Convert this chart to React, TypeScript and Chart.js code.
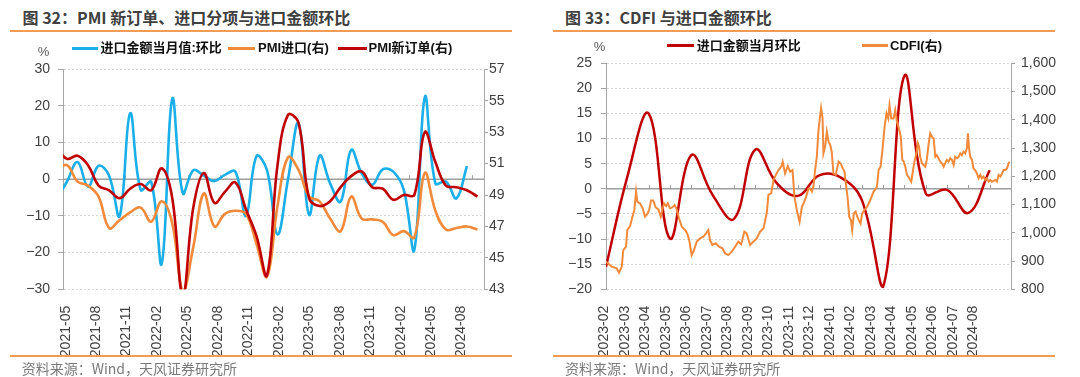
import React, { useEffect, useRef } from 'react';
import { Chart, registerables } from 'chart.js';

Chart.register(...registerables);

/* ================= 图 32 : monthly data, 2021-04 … 2024-08 ================= */
const FIG32_MONTHS = [
  '2021-04', '2021-05', '2021-06', '2021-07', '2021-08', '2021-09', '2021-10', '2021-11', '2021-12',
  '2022-01', '2022-02', '2022-03', '2022-04', '2022-05', '2022-06', '2022-07', '2022-08', '2022-09', '2022-10', '2022-11', '2022-12',
  '2023-01', '2023-02', '2023-03', '2023-04', '2023-05', '2023-06', '2023-07', '2023-08', '2023-09', '2023-10', '2023-11', '2023-12',
  '2024-01', '2024-02', '2024-03', '2024-04', '2024-05', '2024-06', '2024-07', '2024-08',
];
// 进口金额:当月值:环比 (%, left axis)
const FIG32_IMPORT_MOM = [
  -5.5, -0.6, 4.7, -2.0, 3.7, 1.0, -10.0, 18.0, -2.9,
  -0.7, -23.0, 22.0, -3.8, 2.5, 1.0, -0.5, 1.2, 2.1, -10.0, 6.3, 2.5,
  -15.0, 0.0, 15.3, -9.7, 6.4, -1.1, -6.1, 8.0, 1.6, -1.5, 2.7, 2.1,
  -2.9, -19.3, 22.5, -1.1, -0.6, -5.2, 3.6, null,
];
// PMI 进口 (right axis)
const FIG32_PMI_IMPORT = [
  50.6, 50.9, 49.85, 49.6, 48.9, 46.9, 47.4, 47.9, 48.2,
  47.3, 48.6, 47.2, 42.9, 45.7, 49.1, 47.0, 47.8, 48.0, 47.8, 45.9, 43.8,
  48.3, 51.4, 50.6, 48.9, 48.6, 47.5, 46.7, 48.9, 47.5, 47.45, 47.3, 46.45,
  46.7, 46.3, 50.4, 48.0, 46.8, 46.9, 47.0, 46.8,
];
// PMI 新订单 (right axis)
const FIG32_PMI_NEW_ORDERS = [
  52.0, 51.3, 51.5, 50.9, 49.6, 49.3, 48.8, 49.4, 49.7,
  49.3, 50.7, 48.8, 42.6, 48.2, 50.4, 48.5, 49.2, 49.8, 48.1, 46.4, 43.9,
  50.9, 54.1, 53.6, 48.8, 48.3, 48.6, 49.5, 50.2, 50.5, 49.5, 49.4, 48.7,
  49.0, 49.0, 53.0, 51.1, 49.6, 49.5, 49.3, 48.9,
];
const FIG32_TICK_LABELS = [
  '2021-05', '2021-08', '2021-11', '2022-02', '2022-05', '2022-08', '2022-11',
  '2023-02', '2023-05', '2023-08', '2023-11', '2024-02', '2024-05', '2024-08',
];
const FIG32_LEFT = { min: -30, max: 30, step: 10 };
const FIG32_RIGHT = { min: 43, max: 57, step: 2 };

/* ================= 图 33 : 2023-02 … 2024-08 ================= */
const FIG33_MONTHS = [
  '2023-02', '2023-03', '2023-04', '2023-05', '2023-06', '2023-07', '2023-08', '2023-09', '2023-10',
  '2023-11', '2023-12', '2024-01', '2024-02', '2024-03', '2024-04', '2024-05', '2024-06', '2024-07', '2024-08',
];
// 进口金额:当月环比 (%, left axis)
const FIG33_IMPORT_MOM = [
  -15.5, 2.4, 15.0, -9.9, 6.7, -1.2, -6.0, 7.8, 1.2, -1.4, 2.7, 2.3, -2.2, -19.5, 22.5, -0.9, -0.2, -4.8, 3.7,
];
// CDFI (right axis): time in months after 2023-02, value
const FIG33_CDFI_T = [
  0.00, 0.27, 0.50, 0.61, 0.74, 0.81, 0.94, 1.00, 1.13, 1.24, 1.33, 1.41, 1.47, 1.60, 1.72, 1.83, 1.94, 2.03, 2.11, 2.22,
  2.33, 2.46, 2.57, 2.65, 2.72, 2.82, 2.90, 3.00, 3.11, 3.22, 3.32, 3.41, 3.55, 3.71, 3.82, 3.91, 4.02, 4.13, 4.26, 4.41,
  4.57, 4.69, 4.80, 4.88, 4.99, 5.15, 5.30, 5.46, 5.59, 5.74, 5.90, 6.06, 6.21, 6.34, 6.49, 6.60, 6.76, 6.92, 7.07, 7.23,
  7.39, 7.54, 7.62, 7.75, 7.86, 7.97, 8.09, 8.22, 8.29, 8.40, 8.53, 8.64, 8.75, 8.84, 8.95, 9.08, 9.19, 9.30, 9.39, 9.50,
  9.58, 9.66, 9.73, 9.81, 9.89, 9.97, 10.05, 10.09, 10.16, 10.20, 10.28, 10.36, 10.44, 10.52, 10.59, 10.67, 10.78, 10.91, 11.02, 11.11,
  11.19, 11.25, 11.33, 11.41, 11.49, 11.55, 11.63, 11.71, 11.79, 11.86, 11.94, 12.02, 12.13, 12.25, 12.40, 12.55, 12.71, 12.79, 12.88, 12.97,
  13.07, 13.16, 13.24, 13.30, 13.38, 13.49, 13.57, 13.65, 13.76, 13.83, 13.90, 13.97, 14.05, 14.12, 14.23, 14.32, 14.38, 14.47, 14.58, 14.63,
  14.69, 14.74, 14.82, 14.90, 14.98, 15.05, 15.13, 15.21, 15.29, 15.37, 15.45, 15.52, 15.60, 15.68, 15.76, 15.84, 15.91, 15.99, 16.07, 16.15,
  16.23, 16.31, 16.38, 16.46, 16.54, 16.62, 16.69, 16.77, 16.85, 16.93, 16.98, 17.04, 17.09, 17.17, 17.24, 17.32, 17.40, 17.48, 17.56, 17.63,
  17.71, 17.79, 17.87, 17.95, 18.03, 18.11, 18.26, 18.34, 18.42, 18.50, 18.58, 18.65, 18.73, 18.81, 18.89, 18.93,
];
const FIG33_CDFI = [
  898, 880, 874, 859, 880, 939, 951, 1010, 1024, 1057, 1081, 1146, 1110, 1104, 1087, 1057, 1067, 1083, 1114, 1114,
  1090, 1083, 1057, 1083, 1104, 1095, 1104, 1087, 1090, 1098, 1083, 1055, 1022, 1010, 996, 972, 921, 939, 969, 980,
  986, 998, 1010, 974, 957, 963, 951, 945, 927, 921, 933, 951, 969, 959, 1004, 998, 957, 969, 980, 1004,
  1016, 1069, 1134, 1140, 1187, 1205, 1222, 1234, 1252, 1210, 1236, 1216, 1222, 1128, 1081, 1039, 1092, 1110, 1128, 1157,
  1157, 1146, 1163, 1222, 1269, 1364, 1417, 1441, 1405, 1281, 1305, 1358, 1323, 1311, 1287, 1210, 1205, 1252, 1243, 1228,
  1216, 1175, 1128, 1057, 1045, 1010, 1069, 1075, 1057, 1045, 1033, 1069, 1081, 1092, 1116, 1145, 1163, 1222, 1234, 1293,
  1376, 1423, 1405, 1452, 1405, 1405, 1435, 1393, 1364, 1340, 1258, 1252, 1230, 1205, 1193, 1181, 1210, 1252, 1287, 1317,
  1305, 1269, 1246, 1240, 1234, 1258, 1311, 1352, 1340, 1334, 1269, 1275, 1264, 1252, 1246, 1234, 1246, 1258, 1252, 1264,
  1258, 1240, 1269, 1264, 1269, 1281, 1275, 1287, 1281, 1299, 1352, 1293, 1269, 1258, 1228, 1222, 1210, 1193, 1205, 1193,
  1199, 1187, 1193, 1181, 1187, 1181, 1187, 1181, 1205, 1199, 1210, 1222, 1222, 1228, 1246, 1252,
];
const FIG33_LEFT = { min: -20, max: 25, step: 5 };
const FIG33_RIGHT = { min: 800, max: 1600, step: 100 };

/* ================= styling ================= */
const BLUE = '#1AAFE8';
const ORANGE = '#F28A3B';
const RED = '#C00000';
const AXIS = '#A6A6A6';
const ZERO = '#9E9E9E';
const GRID = '#D6D6D6';
const TICK_TEXT = '#404040';
const RULE = '#F29B52';
const LATIN = '"Liberation Sans", Arial, "Noto Sans CJK SC", sans-serif';
const CJK = '"Noto Sans CJK SC", "Liberation Sans", sans-serif';
const TICK_FONT = { family: '"Liberation Sans", Arial, sans-serif', size: 14 };

const PANEL_W = 540;
const PANEL_H = 377;

const minusFmt = (v: number) => (v < 0 ? '\u2212' + Math.abs(v) : String(v));
const thousandsFmt = (v: number) => v.toLocaleString('en-US');

function zeroAxisPlugin(tickValues: number[]) {
  return {
    id: 'zeroAxis',
    beforeDatasetsDraw(chart: any) {
      const { ctx, chartArea } = chart;
      const y = chart.scales.y.getPixelForValue(0);
      ctx.save();
      ctx.strokeStyle = ZERO;
      ctx.lineWidth = 1.5;
      ctx.beginPath();
      ctx.moveTo(chartArea.left, y);
      ctx.lineTo(chartArea.right, y);
      ctx.stroke();
      ctx.lineWidth = 1;
      ctx.beginPath();
      for (const v of tickValues) {
        const x = Math.round(chart.scales.x.getPixelForValue(v)) + 0.5;
        ctx.moveTo(x, y);
        ctx.lineTo(x, y - 4);
      }
      ctx.stroke();
      ctx.restore();
    },
  };
}

type Geo = {
  top: number; bottom: number; leftW: number; rightW: number;
  xMin: number; xMax: number; labelOffset: number; labelStep: number;
  leftPad: number; rightPad: number;
};

function axes(geo: Geo, tickLabels: string[], left: any, right: any, rightFmt: (v: number) => string) {
  return {
    x: {
      type: 'linear',
      position: 'bottom',
      min: geo.xMin,
      max: geo.xMax,
      grid: { display: false },
      border: { display: false },
      ticks: {
        autoSkip: false, maxRotation: 90, minRotation: 90, padding: 8.5,
        font: TICK_FONT, color: TICK_TEXT,
        callback: (_v: number, i: number) => tickLabels[i],
      },
      afterBuildTicks: (s: any) => {
        s.ticks = tickLabels.map((_l, j) => ({ value: geo.labelOffset + geo.labelStep * j }));
      },
      afterFit: (s: any) => { s.height = PANEL_H - geo.bottom; },
    },
    y: {
      position: 'left',
      min: left.min, max: left.max,
      ticks: { stepSize: left.step, callback: (v: number) => minusFmt(v), font: TICK_FONT, color: TICK_TEXT, padding: geo.leftPad },
      grid: { color: GRID, lineWidth: 1, tickColor: AXIS, tickLength: 5, tickWidth: 1 },
      border: { display: true, color: AXIS, width: 1, dash: [2, 2] },
      afterFit: (s: any) => { s.width = geo.leftW; },
    },
    yR: {
      position: 'right',
      min: right.min, max: right.max,
      ticks: { stepSize: right.step, callback: (v: number) => rightFmt(v), font: TICK_FONT, color: TICK_TEXT, padding: geo.rightPad },
      grid: { drawOnChartArea: false, tickColor: AXIS, tickLength: 4, tickWidth: 1 },
      border: { display: true, color: AXIS, width: 1 },
      afterFit: (s: any) => { s.width = geo.rightW; },
    },
  };
}

/* chart 1 geometry (canvas coords) */
const GEO32: Geo = {
  top: 69.3, bottom: 289.3, leftW: 63, rightW: PANEL_W - 484,
  xMin: -0.38, xMax: 39.62, labelOffset: -0.12, labelStep: 0.9644 * 3,
  leftPad: 8, rightPad: 1,
};
/* chart 2 geometry (canvas coords, canvas starts at page x = 540) */
const GEO33: Geo = {
  top: 63.3, bottom: 289.3, leftW: 66, rightW: PANEL_W - 471,
  xMin: 0, xMax: 19.0, labelOffset: -0.08, labelStep: 0.9624,
  leftPad: 9, rightPad: 6,
};

function buildFig32(canvas: HTMLCanvasElement) {
  const first = FIG32_MONTHS.indexOf('2021-05');
  const pts = (arr: (number | null)[]) => arr.map((y, k) => ({ x: k - first, y }));
  const ticksOnZero: number[] = [];
  for (let v = 2.5; v < FIG32_MONTHS.length - first; v += 3) ticksOnZero.push(v);
  return new Chart(canvas, {
    type: 'line',
    data: {
      datasets: [
        { label: 'PMI新订单(右)', data: pts(FIG32_PMI_NEW_ORDERS), yAxisID: 'yR', borderColor: RED, borderWidth: 2.6, tension: 0.4, pointRadius: 0, order: 0 },
        { label: 'PMI进口(右)', data: pts(FIG32_PMI_IMPORT), yAxisID: 'yR', borderColor: ORANGE, borderWidth: 2.6, tension: 0.4, pointRadius: 0, order: 1 },
        { label: '进口金额当月值:环比', data: pts(FIG32_IMPORT_MOM), yAxisID: 'y', borderColor: BLUE, borderWidth: 2.6, tension: 0.4, pointRadius: 0, order: 2 },
      ],
    },
    options: {
      responsive: false,
      animation: false,
      devicePixelRatio: 1,
      events: [],
      layout: { padding: { top: GEO32.top, left: 0, right: 0, bottom: 0 } },
      plugins: { legend: { display: false }, tooltip: { enabled: false } },
      scales: axes(GEO32, FIG32_TICK_LABELS, FIG32_LEFT, FIG32_RIGHT, (v) => String(v)),
    } as any,
    plugins: [zeroAxisPlugin(ticksOnZero)],
  });
}

function buildFig33(canvas: HTMLCanvasElement) {
  const monthPts = FIG33_IMPORT_MOM.map((y, k) => ({ x: k, y }));
  const cdfiPts = FIG33_CDFI.map((y, k) => ({ x: FIG33_CDFI_T[k], y }));
  const ticksOnZero = FIG33_MONTHS.map((_m, k) => k);
  return new Chart(canvas, {
    type: 'line',
    data: {
      datasets: [
        { label: '进口金额当月环比', data: monthPts, yAxisID: 'y', borderColor: RED, borderWidth: 2.5, tension: 0.4, pointRadius: 0, order: 1 },
        { label: 'CDFI(右)', data: cdfiPts, yAxisID: 'yR', borderColor: ORANGE, borderWidth: 2, tension: 0, pointRadius: 0, order: 0 },
      ],
    },
    options: {
      responsive: false,
      animation: false,
      devicePixelRatio: 1,
      events: [],
      layout: { padding: { top: GEO33.top, left: 0, right: 0, bottom: 0 } },
      plugins: { legend: { display: false }, tooltip: { enabled: false } },
      scales: axes(GEO33, FIG33_MONTHS, FIG33_LEFT, FIG33_RIGHT, thousandsFmt),
    } as any,
    plugins: [zeroAxisPlugin(ticksOnZero)],
  });
}

function ChartCanvas({ left, build }: { left: number; build: (c: HTMLCanvasElement) => Chart }) {
  const ref = useRef<HTMLCanvasElement>(null);
  useEffect(() => {
    const chart = build(ref.current as HTMLCanvasElement);
    return () => chart.destroy();
  }, []);
  return (
    <canvas
      ref={ref}
      width={PANEL_W}
      height={PANEL_H}
      style={{ position: 'absolute', left, top: 0, width: PANEL_W, height: PANEL_H }}
    />
  );
}

function Txt(props: {
  x: number; y: number; size: number; children: React.ReactNode;
  color?: string; weight?: number; family?: string; center?: boolean;
}) {
  const { x, y, size, children, color = TICK_TEXT, weight = 400, family = CJK, center } = props;
  const h = Math.round(size * 1.4);
  return (
    <div
      style={{
        position: 'absolute', left: x, top: y - h / 2, height: h, lineHeight: h + 'px',
        fontSize: size, fontWeight: weight, color, fontFamily: family, whiteSpace: 'nowrap',
        transform: center ? 'translateX(-50%)' : undefined,
      }}
    >
      {children}
    </div>
  );
}

function Rule({ x, y, w }: { x: number; y: number; w: number }) {
  return <div style={{ position: 'absolute', left: x, top: y, width: w, height: 1.6, background: RULE }} />;
}

function LegendLine({ x1, x2, y, color }: { x1: number; x2: number; y: number; color: string }) {
  return <div style={{ position: 'absolute', left: x1, top: y - 1.25, width: x2 - x1, height: 2.5, background: color }} />;
}

export default function App() {
  return (
    <div
      style={{
        position: 'absolute', left: 0, top: 0, width: 1080, height: 377,
        background: '#ffffff', overflow: 'hidden',
      }}
    >
      {/* ---------- panel 1 ---------- */}
      <Txt x={22.5} y={16.5} size={16} weight={700} color="#404040">图 32：PMI 新订单、进口分项与进口金额环比</Txt>
      <Rule x={10} y={30} w={502} />
      <ChartCanvas left={0} build={buildFig32} />
      <Txt x={43.5} y={51.5} size={13} color="#595959" family={LATIN} center>%</Txt>
      <LegendLine x1={71.7} x2={98.3} y={48.3} color={BLUE} />
      <Txt x={100.5} y={48.3} size={13} weight={700} color="#111" family={LATIN}>进口金额当月值:环比</Txt>
      <LegendLine x1={228} x2={255} y={48.3} color={ORANGE} />
      <Txt x={258} y={48.3} size={13} weight={700} color="#111" family={LATIN}>PMI进口(右)</Txt>
      <LegendLine x1={338} x2={367} y={48.3} color={RED} />
      <Txt x={368.5} y={48.3} size={13} weight={700} color="#111" family={LATIN}>PMI新订单(右)</Txt>
      <Rule x={10} y={355.3} w={502} />
      <Txt x={21.7} y={368} size={14} color="#7A7A7A">资料来源：Wind，天风证券研究所</Txt>

      {/* ---------- panel 2 ---------- */}
      <Txt x={565} y={16.5} size={16} weight={700} color="#404040">图 33：CDFI 与进口金额环比</Txt>
      <Rule x={553.3} y={30} w={501.7} />
      <ChartCanvas left={540} build={buildFig33} />
      <Txt x={599.5} y={46.7} size={13} color="#595959" family={LATIN} center>%</Txt>
      <LegendLine x1={666.7} x2={694} y={45.7} color={RED} />
      <Txt x={696.7} y={45.7} size={13} weight={700} color="#111" family={LATIN}>进口金额当月环比</Txt>
      <LegendLine x1={861.7} x2={888.3} y={45.7} color={ORANGE} />
      <Txt x={890} y={45.7} size={13} weight={700} color="#111" family={LATIN}>CDFI(右)</Txt>
      <Rule x={553.3} y={355.3} w={501.7} />
      <Txt x={565} y={368} size={14} color="#7A7A7A">资料来源：Wind，天风证券研究所</Txt>
    </div>
  );
}
